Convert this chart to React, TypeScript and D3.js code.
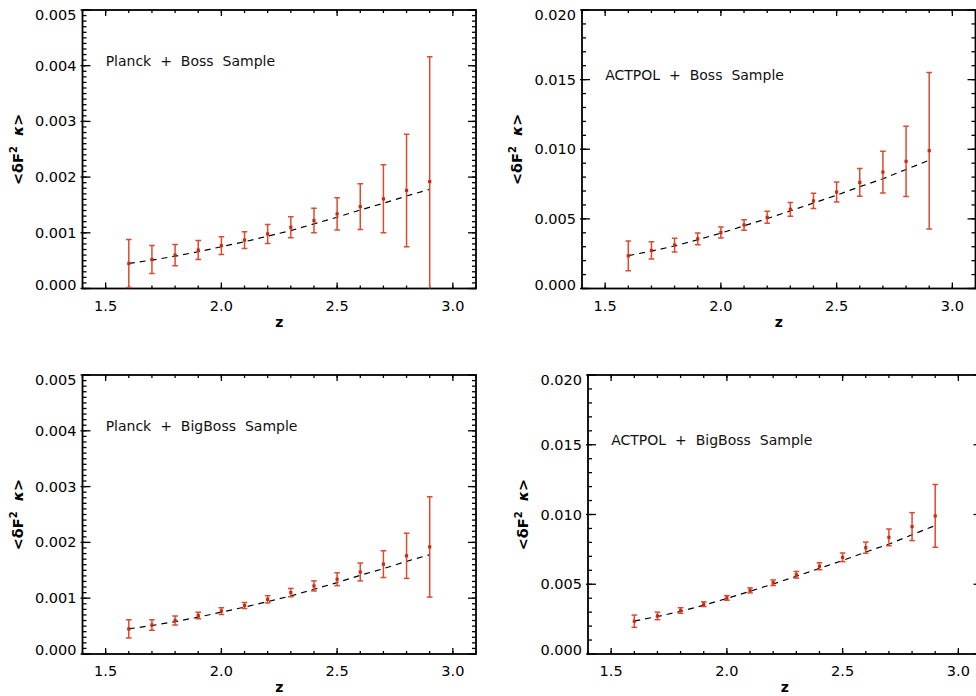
import React from "react";
import * as d3 from "d3";

// ---- data ----
const zValues = [1.6, 1.7, 1.8, 1.9, 2.0, 2.1, 2.2, 2.3, 2.4, 2.5, 2.6, 2.7, 2.8, 2.9];

const planckCenter = [0.00045, 0.00052, 0.0006, 0.00069, 0.00077, 0.00087, 0.00098, 0.0011, 0.00122, 0.00134, 0.00147, 0.00161, 0.00176, 0.00192];
const planckModel = [0.00045, 0.00051, 0.00058, 0.00066, 0.00075, 0.00084, 0.00094, 0.00104, 0.00116, 0.00128, 0.00141, 0.00153, 0.00166, 0.00178];
const planckBossSigma = [0.00043, 0.00025, 0.00019, 0.00017, 0.00016, 0.00015, 0.00017, 0.00019, 0.00022, 0.00029, 0.00041, 0.00061, 0.00101, 0.00224];
const planckBigBossSigma = [0.000165, 0.000095, 0.00008, 0.00006, 0.00006, 0.000055, 0.000065, 0.000075, 0.00009, 0.000115, 0.00016, 0.00024, 0.000405, 0.0009];

const actpolCenter = [0.00235, 0.00273, 0.00312, 0.00357, 0.00402, 0.00456, 0.00511, 0.00568, 0.00629, 0.00693, 0.00762, 0.00836, 0.00913, 0.0099];
const actpolModel = [0.00236, 0.00269, 0.00305, 0.0035, 0.00398, 0.0045, 0.00502, 0.00557, 0.00614, 0.0067, 0.00731, 0.00788, 0.00855, 0.00921];
const actpolBossSigma = [0.00107, 0.00062, 0.00049, 0.00042, 0.0004, 0.00037, 0.00043, 0.0005, 0.00055, 0.00072, 0.001, 0.0015, 0.00252, 0.00562];
const actpolBigBossSigma = [0.00044, 0.00027, 0.0002, 0.00017, 0.00017, 0.00018, 0.0002, 0.00024, 0.00025, 0.00031, 0.0004, 0.0006, 0.001, 0.00225];

const xMajorTicks = [1.5, 2.0, 2.5, 3.0];
const xMinorTicks = [1.4, 1.5, 1.6, 1.7, 1.8, 1.9, 2.0, 2.1, 2.2, 2.3, 2.4, 2.5, 2.6, 2.7, 2.8, 2.9, 3.0, 3.1];
const xDomain = [1.4, 3.1];

const panelLabels = ["Planck + Boss Sample", "ACTPOL + Boss Sample", "Planck + BigBoss Sample", "ACTPOL + BigBoss Sample"];
const labelZ = 1.5;
const labelY = [0.004, 0.015, 0.004, 0.015];

const FONT = "'DejaVu Sans', Verdana, sans-serif";
const BAR = "#dc4a30";
const DOT = "#cc2a10";

type PanelProps = {
  id: string;
  left: number;
  top: number;
  width: number;
  height: number;
  yMax: number;
  yMajor: number;
  yMinor: number;
  label: string;
  labelY: number;
  center: number[];
  sigma: number[];
  model: number[];
};

function Panel(p: PanelProps) {
  const { left, top, width, height } = p;
  const right = left + width;
  const bottom = top + height;
  const x = d3.scaleLinear().domain(xDomain).range([left, right]);
  const y = d3.scaleLinear().domain([0, p.yMax]).range([bottom, top]);
  const nMaj = Math.round(p.yMax / p.yMajor);
  const yMaj = d3.range(0, nMaj + 1).map((i) => i * p.yMajor);
  const nMin = Math.round(p.yMax / p.yMinor);
  const yMin = d3.range(0, nMin + 1).map((i) => i * p.yMinor);
  const fmt = d3.format(".3f");
  const line = d3
    .line<number>()
    .x((_, i) => x(zValues[i]))
    .y((d) => y(d));
  const xMajLen = 6,
    xMinLen = 3,
    yMajLen = 8,
    yMinLen = 4;
  const tickStroke = { stroke: "#000", strokeWidth: 1.3 };
  const capHalf = 2.8;

  return (
    <g>
      <defs>
        <clipPath id={p.id}>
          <rect x={left} y={top} width={width} height={height} />
        </clipPath>
      </defs>
      {xMinorTicks.map((t, i) => (
        <g key={"xm" + i}>
          <line x1={x(t)} x2={x(t)} y1={bottom} y2={bottom - xMinLen} {...tickStroke} />
          <line x1={x(t)} x2={x(t)} y1={top} y2={top + xMinLen} {...tickStroke} />
        </g>
      ))}
      {xMajorTicks.map((t, i) => (
        <g key={"xM" + i}>
          <line x1={x(t)} x2={x(t)} y1={bottom} y2={bottom - xMajLen} {...tickStroke} />
          <line x1={x(t)} x2={x(t)} y1={top} y2={top + xMajLen} {...tickStroke} />
          <text x={x(t)} y={bottom + 22} textAnchor="middle" fontFamily={FONT} fontSize={14.5} fill="#000">
            {t.toFixed(1)}
          </text>
        </g>
      ))}
      {yMin.map((t, i) => (
        <g key={"ym" + i}>
          <line x1={left} x2={left + yMinLen} y1={y(t)} y2={y(t)} {...tickStroke} />
          <line x1={right} x2={right - yMinLen} y1={y(t)} y2={y(t)} {...tickStroke} />
        </g>
      ))}
      {yMaj.map((t, i) => {
        const dy = i === 0 ? -4 : i === nMaj ? 5 : 0;
        return (
          <g key={"yM" + i}>
            <line x1={left - 2} x2={left + yMajLen} y1={y(t)} y2={y(t)} {...tickStroke} />
            <line x1={right} x2={right - yMajLen} y1={y(t)} y2={y(t)} {...tickStroke} />
            <text
              x={left - 6}
              y={y(t) + dy + 5}
              textAnchor="end"
              fontFamily={FONT}
              fontSize={14.5}
              fill="#000"
            >
              {fmt(t)}
            </text>
          </g>
        );
      })}
      <rect x={left} y={top} width={width} height={height} fill="none" stroke="#000" strokeWidth={1.8} />
      <text x={(left + right) / 2} y={bottom + 38} textAnchor="middle" fontFamily={FONT} fontSize={14} fontWeight="bold">
        z
      </text>
      <text
        transform={`translate(${left - 60},${(top + bottom) / 2}) rotate(-90)`}
        textAnchor="middle"
        fontFamily={FONT}
        fontSize={14.5}
        fontWeight="bold"
      >
        <tspan>{"<δF"}</tspan>
        <tspan dy={-6} fontSize={10}>
          2
        </tspan>
        <tspan dy={6}>{"\u00a0\u00a0"}</tspan>
        <tspan fontStyle="italic">κ</tspan>
        <tspan>{">"}</tspan>
      </text>
      <text x={x(labelZ)} y={y(p.labelY)} fontFamily={FONT} fontSize={14} fill="#111" wordSpacing={4.5}>
        {p.label}
      </text>
      <path d={line(p.model) || ""} fill="none" stroke="#000" strokeWidth={1.2} strokeDasharray="6,5" />
      <g clipPath={`url(#${p.id})`}>
        {zValues.map((z, i) => {
          const cx = x(z);
          const hi = y(p.center[i] + p.sigma[i]);
          const lo = y(p.center[i] - p.sigma[i]);
          return (
            <g key={"e" + i}>
              <line x1={cx} x2={cx} y1={hi} y2={lo} stroke={BAR} strokeWidth={1.5} />
              <line x1={cx - capHalf} x2={cx + capHalf} y1={hi} y2={hi} stroke={BAR} strokeWidth={1.5} />
              <line x1={cx - capHalf} x2={cx + capHalf} y1={lo} y2={lo} stroke={BAR} strokeWidth={1.5} />
              <rect x={cx - 1.6} y={y(p.center[i]) - 1.6} width={3.2} height={3.2} fill={DOT} />
            </g>
          );
        })}
      </g>
    </g>
  );
}

export default function App() {
  return (
    <svg width={976} height={696} style={{ position: "absolute", left: 0, top: 0, background: "#fff" }}>
      <rect x={0} y={0} width={976} height={696} fill="#fff" />
      <Panel id="c1" left={82.5} top={10} width={393.5} height={278.5} yMax={0.005} yMajor={0.001} yMinor={0.0001}
        label={panelLabels[0]} labelY={labelY[0]} center={planckCenter} sigma={planckBossSigma} model={planckModel} />
      <Panel id="c2" left={582} top={10} width={393.5} height={278.5} yMax={0.02} yMajor={0.005} yMinor={0.001}
        label={panelLabels[1]} labelY={labelY[1]} center={actpolCenter} sigma={actpolBossSigma} model={actpolModel} />
      <Panel id="c3" left={82.5} top={375} width={393.5} height={279} yMax={0.005} yMajor={0.001} yMinor={0.0001}
        label={panelLabels[2]} labelY={labelY[2]} center={planckCenter} sigma={planckBigBossSigma} model={planckModel} />
      <Panel id="c4" left={588} top={375} width={393.5} height={279} yMax={0.02} yMajor={0.005} yMinor={0.001}
        label={panelLabels[3]} labelY={labelY[3]} center={actpolCenter} sigma={actpolBigBossSigma} model={actpolModel} />
    </svg>
  );
}
